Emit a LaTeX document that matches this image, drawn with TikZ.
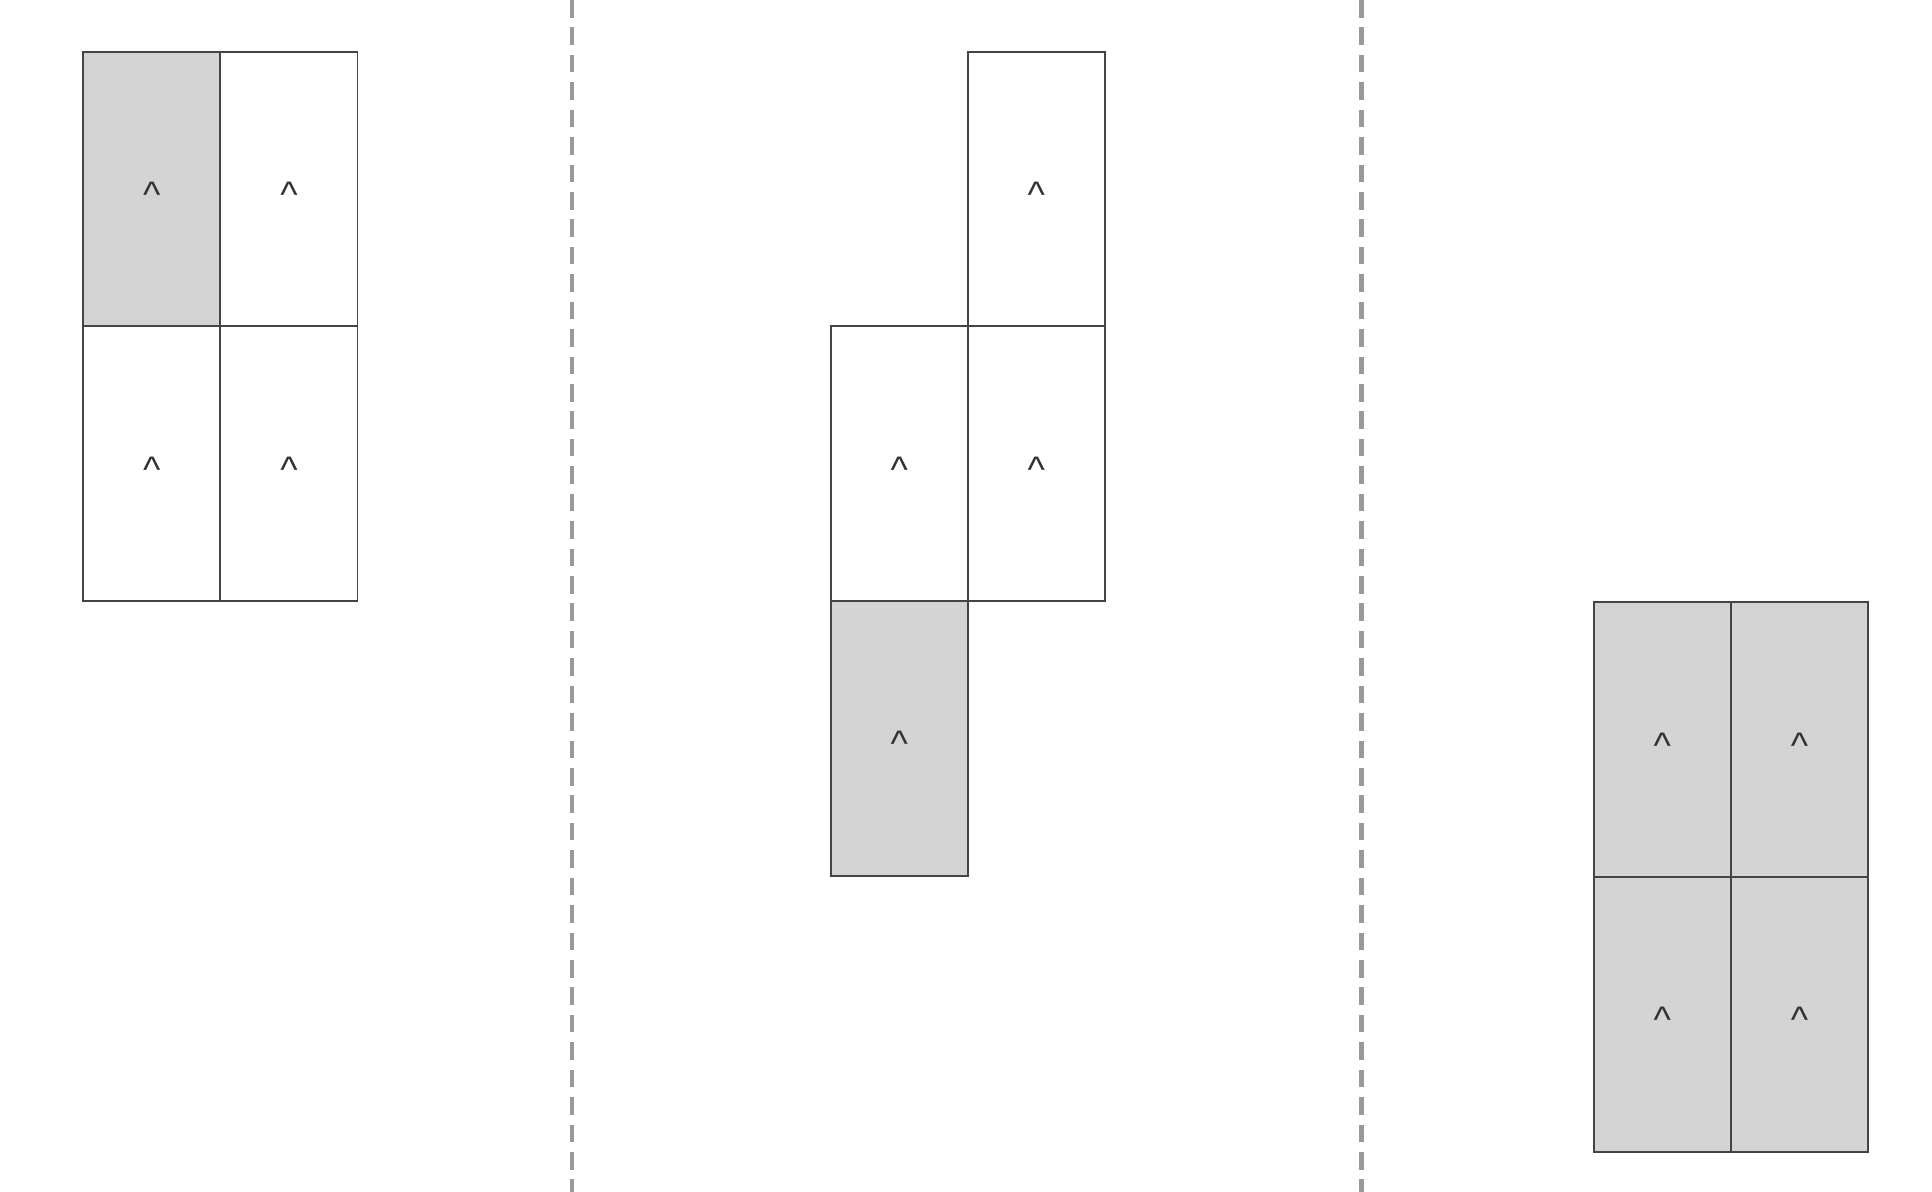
\documentclass[tikz,border=0pt]{standalone}
\usepackage{fontspec}
\setmainfont{Liberation Sans}
\usetikzlibrary{positioning}

\definecolor{cellline}{HTML}{444444}
\definecolor{cellfill}{HTML}{D4D4D4}
\definecolor{sepline}{HTML}{999999}
\definecolor{marktext}{HTML}{333333}

% caret, centred on the cell middle
\newcommand{\upmark}{\raisebox{-0.5em}[0pt][0pt]{\textasciicircum}}

\begin{document}
\begin{tikzpicture}[
    x=0.01cm, y=-0.01cm,
    cell/.style={draw=cellline, line width=0.55pt, minimum width=1.37cm, minimum height=2.745cm, inner sep=0pt, outer sep=0pt, text=marktext, font=\fontsize{10.5}{12}\selectfont},
    shaded/.style={cell, fill=cellfill},
    sep/.style={draw=sepline, line width=1.2pt, dash pattern=on 5pt off 2.8pt},
    node distance=0pt
]
    \useasboundingbox (0,0) rectangle (1932,1192);

    % Separators
    \draw [sep] (572,0) -- (572,1192);
    \draw [sep] (1361.5,0) -- (1361.5,1192);

    % Panel 1
    \node (a1) [shaded] at (151.9,189.1) {\upmark};
    \node (a2) [cell, right=of a1] {\upmark};
    \node (a3) [cell, below=of a1] {\upmark};
    \node (a4) [cell, below=of a2] {\upmark};

    % Panel 2
    \node (b1) [cell] at (1036.3,189.1) {\upmark};
    \node (b2) [cell, below=of b1] {\upmark};
    \node (b3) [cell, left=of b2] {\upmark};
    \node (b4) [shaded, below=of b3] {\upmark};

    % Panel 3
    \node (c1) [shaded] at (1662.4,739.7) {\upmark};
    \node (c2) [shaded, right=of c1] {\upmark};
    \node (c3) [shaded, below=of c1] {\upmark};
    \node (c4) [shaded, below=of c2] {\upmark};
\end{tikzpicture}
\end{document}
